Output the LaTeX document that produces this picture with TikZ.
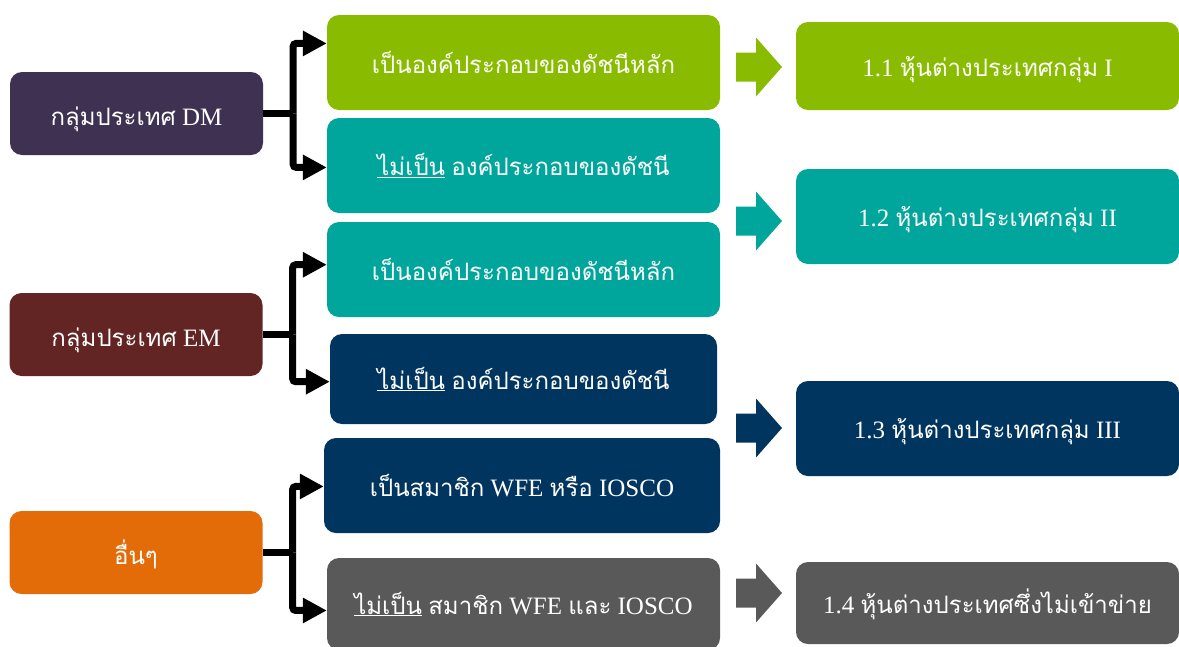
\documentclass[tikz,border=0pt]{standalone}
\usepackage{fontspec}
\setmainfont{Liberation Serif}
\newfontfamily\thfont[Script=Thai,Scale=0.96]{Loma}
\usetikzlibrary{arrows.meta,calc}
\definecolor{cgreen}{HTML}{89BC00}
\definecolor{cteal}{HTML}{00A69C}
\definecolor{cnavy}{HTML}{00355F}
\definecolor{cgray}{HTML}{595959}
\definecolor{cpurple}{HTML}{3F3151}
\definecolor{cmaroon}{HTML}{632523}
\definecolor{corange}{HTML}{E36C09}
\begin{document}
\begin{tikzpicture}[x=1pt,y=-1pt,
  box/.style={rounded corners=12pt,text=white,inner sep=0pt,font=\fontsize{25}{30}\selectfont},
  leftbox/.style={box,minimum width=253pt,minimum height=83pt,text height=27pt,text depth=4pt},
  midbox/.style={box,minimum width=393pt,minimum height=95pt},
  rightbox/.style={box,minimum width=383pt,minimum height=88pt,text height=24pt,text depth=4pt},
  brk/.style={line width=7pt,rounded corners=3pt},
  brkarrow/.style={brk,-{Triangle[length=24pt,width=24pt]}},
  barrow/.pic={\fill[#1] (-23,-14.5) -- (-3,-14.5) -- (-3,-29.5) -- (23,0) -- (-3,29.5) -- (-3,14.5) -- (-23,14.5) -- cycle;}
]
\useasboundingbox (0,0) rectangle (1179,646);
% left boxes
\node[leftbox,fill=cpurple] (dm) at (136.5,113.5) {{\thfont กลุ่มประเทศ} DM};
\node[leftbox,fill=cmaroon] (em) at (136,334.5) {{\thfont กลุ่มประเทศ} EM};
\node[leftbox,fill=corange] (ot) at (136,552.5) {\thfont อื่นๆ};
% middle boxes
\node[midbox,fill=cgreen] (m1) at (523.5,62.5) {\thfont เป็นองค์ประกอบของดัชนีหลัก};
\node[midbox,fill=cteal] (m2) at (523.5,165.5) {\underline{\thfont ไม่เป็น} {\thfont องค์ประกอบของดัชนี}};
\node[midbox,fill=cteal] (m3) at (523.5,269.5) {\thfont เป็นองค์ประกอบของดัชนีหลัก};
\node[box,fill=cnavy,minimum width=387pt,minimum height=90pt] (m4) at (523.5,379) {\underline{\thfont ไม่เป็น} {\thfont องค์ประกอบของดัชนี}};
\node[box,fill=cnavy,minimum width=396pt,minimum height=95pt] (m5) at (522,485.5) {{\thfont เป็นสมาชิก} WFE {\thfont หรือ} IOSCO};
\node[box,fill=cgray,minimum width=393pt,minimum height=92pt] (m6) at (523.5,604) {\underline{\thfont ไม่เป็น} {\thfont สมาชิก} WFE {\thfont และ} IOSCO};
% right boxes
\node[rightbox,fill=cgreen] (r1) at (987.5,66) {1.1 {\thfont หุ้นต่างประเทศกลุ่ม} I};
\node[rightbox,fill=cteal,minimum height=95pt] (r2) at (987.5,216.5) {1.2 {\thfont หุ้นต่างประเทศกลุ่ม} II};
\node[rightbox,fill=cnavy,minimum height=95pt] (r3) at (987.5,428.5) {1.3 {\thfont หุ้นต่างประเทศกลุ่ม} III};
\node[rightbox,fill=cgray,minimum height=82pt] (r4) at (987.5,603) {1.4 {\thfont หุ้นต่างประเทศซึ่งไม่เข้าข่าย}};
% block arrows
\pic at (759,67) {barrow=cgreen};
\pic at (759,221) {barrow=cteal};
\pic at (759,428) {barrow=cnavy};
\pic at (759,593) {barrow=cgray};
% brackets
\draw[brk] (dm.east) -- ++(30,0) coordinate (j1);
\draw[brkarrow] (j1) |- ($(m1.north west)!0.30!(m1.south west)$);
\draw[brkarrow] (j1) |- ($(m2.north west)!0.52!(m2.south west)$);
\draw[brk] (em.east) -- ++(30,0) coordinate (j2);
\draw[brkarrow] (j2) |- ($(m3.north west)!0.45!(m3.south west)$);
\draw[brkarrow] (j2) |- ($(m4.north west)!0.53!(m4.south west)$);
\draw[brk] (ot.east) -- ++(30,0) coordinate (j3);
\draw[brkarrow] (j3) |- ($(m5.north west)!0.51!(m5.south west)$);
\draw[brkarrow] (j3) |- ($(m6.north west)!0.57!(m6.south west)$);
\end{tikzpicture}
\end{document}
